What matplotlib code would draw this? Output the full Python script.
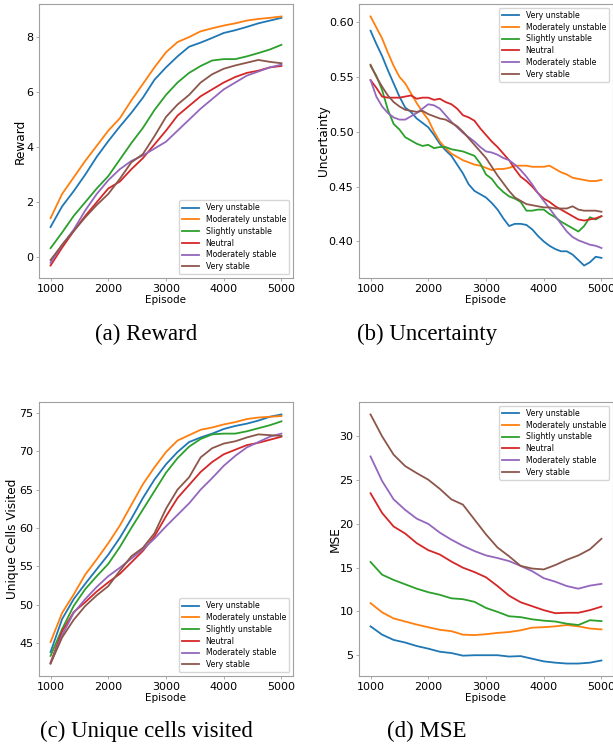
import numpy as np
import matplotlib.pyplot as plt

W, H = 613, 755

names = ["Very unstable", "Moderately unstable", "Slightly unstable",
         "Neutral", "Moderately stable", "Very stable"]

ep = np.arange(1000, 5001, 200)
ep_fine = np.arange(1000, 5001, 100)

# reward, one list per stability class
rew_vu = [1.1, 1.85, 2.4, 3.0, 3.65, 4.22, 4.75, 5.25, 5.8, 6.45, 6.9, 7.3, 7.65, 7.8, 7.97, 8.15, 8.25, 8.37, 8.5, 8.6, 8.7]
rew_mu = [1.42, 2.3, 2.9, 3.5, 4.05, 4.6, 5.05, 5.7, 6.3, 6.9, 7.45, 7.82, 8.0, 8.21, 8.32, 8.42, 8.5, 8.6, 8.66, 8.7, 8.75]
rew_su = [0.33, 0.9, 1.5, 2.0, 2.5, 2.95, 3.55, 4.15, 4.7, 5.35, 5.9, 6.35, 6.7, 6.95, 7.15, 7.2, 7.2, 7.3, 7.42, 7.55, 7.72]
rew_ne = [-0.3, 0.35, 0.95, 1.5, 2.0, 2.5, 2.75, 3.2, 3.6, 4.1, 4.6, 5.15, 5.5, 5.85, 6.1, 6.35, 6.55, 6.7, 6.78, 6.9, 6.95]
rew_ms = [-0.2, 0.45, 1.0, 1.7, 2.3, 2.8, 3.2, 3.5, 3.7, 3.95, 4.2, 4.6, 5.0, 5.4, 5.75, 6.1, 6.35, 6.6, 6.75, 6.9, 7.0]
rew_vs = [-0.1, 0.45, 0.95, 1.45, 1.9, 2.3, 2.85, 3.45, 3.75, 4.4, 5.1, 5.55, 5.9, 6.35, 6.65, 6.85, 6.97, 7.07, 7.17, 7.1, 7.05]

# uncertainty, every 100 episodes
unc_vu = [.592, .580, .569, .556, .544, .532, .522, .518, .512, .508, .504, .497, .489, .483, .478, .470, .462, .452, .446, .443, .440,
          .435, .429, .421, .414, .416, .416, .415, .411, .405, .400, .396, .393, .391, .391, .388, .383, .378, .381, .386, .385]
unc_mu = [.605, .595, .585, .572, .560, .550, .544, .535, .526, .518, .511, .500, .491, .485, .480, .477, .474, .472, .470, .469, .467,
          .465, .466, .466, .467, .469, .469, .469, .468, .468, .468, .469, .466, .463, .461, .458, .457, .456, .455, .455, .456]
unc_su = [.560, .551, .538, .520, .507, .502, .495, .492, .489, .487, .488, .485, .486, .486, .484, .483, .482, .480, .478, .471, .461,
          .457, .450, .445, .441, .439, .436, .428, .428, .429, .429, .425, .422, .418, .415, .412, .409, .414, .422, .420, .423]
unc_ne = [.547, .540, .532, .531, .531, .531, .532, .533, .530, .531, .531, .529, .530, .527, .525, .521, .515, .513, .510, .503, .497,
          .491, .486, .480, .474, .466, .459, .455, .450, .444, .439, .436, .432, .429, .426, .423, .420, .419, .420, .421, .423]
unc_ms = [.547, .532, .523, .517, .513, .511, .511, .514, .517, .521, .525, .524, .521, .515, .509, .504, .499, .495, .491, .486, .482,
          .481, .479, .476, .474, .470, .465, .459, .452, .444, .437, .430, .423, .416, .409, .404, .401, .399, .397, .396, .394]
unc_vs = [.561, .550, .541, .533, .527, .523, .520, .519, .518, .519, .516, .514, .512, .511, .508, .505, .500, .494, .488, .482, .476,
          .468, .460, .453, .446, .440, .437, .434, .433, .432, .431, .431, .430, .430, .430, .432, .429, .428, .428, .428, .427]

# unique cells visited
uc_vu = [43.8, 48.1, 50.7, 52.7, 54.6, 56.5, 58.7, 61.2, 63.9, 66.3, 68.3, 69.9, 71.2, 71.8, 72.3, 72.9, 73.3, 73.6, 74.0, 74.5, 74.8]
uc_mu = [45.1, 48.9, 51.3, 53.9, 55.9, 58.0, 60.3, 63.0, 65.7, 67.9, 69.9, 71.4, 72.1, 72.8, 73.1, 73.5, 73.8, 74.2, 74.4, 74.5, 74.6]
uc_su = [43.3, 46.8, 49.8, 52.0, 53.7, 55.3, 57.5, 60.0, 62.4, 64.8, 67.2, 69.1, 70.6, 71.6, 72.2, 72.3, 72.3, 72.6, 73.0, 73.4, 73.9]
uc_ne = [42.4, 46.5, 49.0, 50.3, 51.7, 52.9, 54.0, 55.5, 57.0, 58.9, 61.5, 63.9, 65.6, 67.3, 68.6, 69.6, 70.2, 70.8, 71.1, 71.5, 71.9]
uc_ms = [42.3, 46.0, 48.9, 50.7, 52.3, 53.7, 54.8, 56.0, 57.2, 58.6, 60.2, 61.7, 63.2, 65.0, 66.5, 68.1, 69.4, 70.5, 71.2, 71.9, 72.3]
uc_vs = [42.3, 45.7, 48.0, 49.8, 51.2, 52.4, 54.4, 56.3, 57.4, 59.3, 62.5, 65.0, 66.6, 69.2, 70.4, 71.0, 71.3, 71.8, 72.2, 72.1, 72.0]

# prediction MSE
mse_vu = [8.3, 7.35, 6.75, 6.45, 6.05, 5.75, 5.4, 5.25, 4.95, 5.0, 5.0, 5.0, 4.85, 4.9, 4.6, 4.3, 4.15, 4.05, 4.05, 4.15, 4.4]
mse_mu = [10.95, 9.9, 9.2, 8.85, 8.5, 8.2, 7.9, 7.75, 7.35, 7.3, 7.4, 7.55, 7.65, 7.85, 8.15, 8.2, 8.3, 8.45, 8.3, 8.05, 7.95]
mse_su = [15.65, 14.2, 13.6, 13.1, 12.6, 12.2, 11.9, 11.5, 11.4, 11.1, 10.4, 9.95, 9.45, 9.35, 9.1, 8.95, 8.85, 8.6, 8.45, 9.0, 8.9]
mse_ne = [23.5, 21.25, 19.7, 18.9, 17.8, 17.0, 16.5, 15.7, 15.0, 14.5, 13.9, 12.9, 11.8, 11.05, 10.6, 10.15, 9.8, 9.85, 9.85, 10.15, 10.55]
mse_ms = [27.7, 24.9, 22.8, 21.6, 20.6, 20.0, 19.0, 18.2, 17.5, 16.9, 16.4, 16.1, 15.75, 15.2, 14.6, 13.8, 13.4, 12.9, 12.6, 12.95, 13.15]
mse_vs = [32.5, 30.0, 27.9, 26.6, 25.8, 25.05, 24.0, 22.8, 22.2, 20.5, 18.8, 17.3, 16.3, 15.2, 14.9, 14.8, 15.3, 15.9, 16.4, 17.1, 18.3]

fig = plt.figure(figsize=(W / 100, H / 100), dpi=100)


def panel(left, top):
    ax = fig.add_axes([left / W, (H - top - 274) / H, 254 / W, 274 / H])
    for s in ax.spines.values():
        s.set_linewidth(0.8)
        s.set_color("#a0a0a0")
    ax.tick_params(labelsize=8, length=2, width=0.6, color="#a0a0a0", pad=2)
    return ax


def draw(ax, x, series, ylabel, ylab_x, loc):
    for y, name in zip(series, names):
        ax.plot(x, y, lw=1.3, label=name)
    ax.set_xticks([1000, 2000, 3000, 4000, 5000])
    ax.set_xlabel("Episode", fontsize=7.5, labelpad=1)
    ax.set_ylabel(ylabel, fontsize=8.7)
    ax.yaxis.set_label_coords(ylab_x, 0.5)
    ax.legend(loc=loc, fontsize=5.6, handlelength=2.2, labelspacing=0.35, framealpha=0.8)


ax = panel(39, 4)
draw(ax, ep, [rew_vu, rew_mu, rew_su, rew_ne, rew_ms, rew_vs], "Reward", -0.05, "lower right")
ax.set_yticks([0, 2, 4, 6, 8])

ax = panel(359, 4)
draw(ax, ep_fine, [unc_vu, unc_mu, unc_su, unc_ne, unc_ms, unc_vs], "Uncertainty", -0.114, "upper right")
ax.set_yticks([0.40, 0.45, 0.50, 0.55, 0.60])
ax.yaxis.set_major_formatter(plt.FormatStrFormatter("%.2f"))

ax = panel(39, 402)
draw(ax, ep, [uc_vu, uc_mu, uc_su, uc_ne, uc_ms, uc_vs], "Unique Cells Visited", -0.078, "lower right")
ax.set_yticks([45, 50, 55, 60, 65, 70, 75])

ax = panel(359, 402)
draw(ax, ep, [mse_vu, mse_mu, mse_su, mse_ne, mse_ms, mse_vs], "MSE", -0.068, "upper right")
ax.set_yticks([5, 10, 15, 20, 25, 30])

# sub-figure captions
cap = dict(fontsize=16.5, family="Liberation Serif", ha="center", va="baseline")
fig.text(146 / W, 1 - 340 / H, "(a) Reward", **cap)
fig.text(427 / W, 1 - 340 / H, "(b) Uncertainty", **cap)
fig.text(146 / W, 1 - 737 / H, "(c) Unique cells visited", **cap)
fig.text(427 / W, 1 - 737 / H, "(d) MSE", **cap)

fig.savefig("out.png", dpi=100)
